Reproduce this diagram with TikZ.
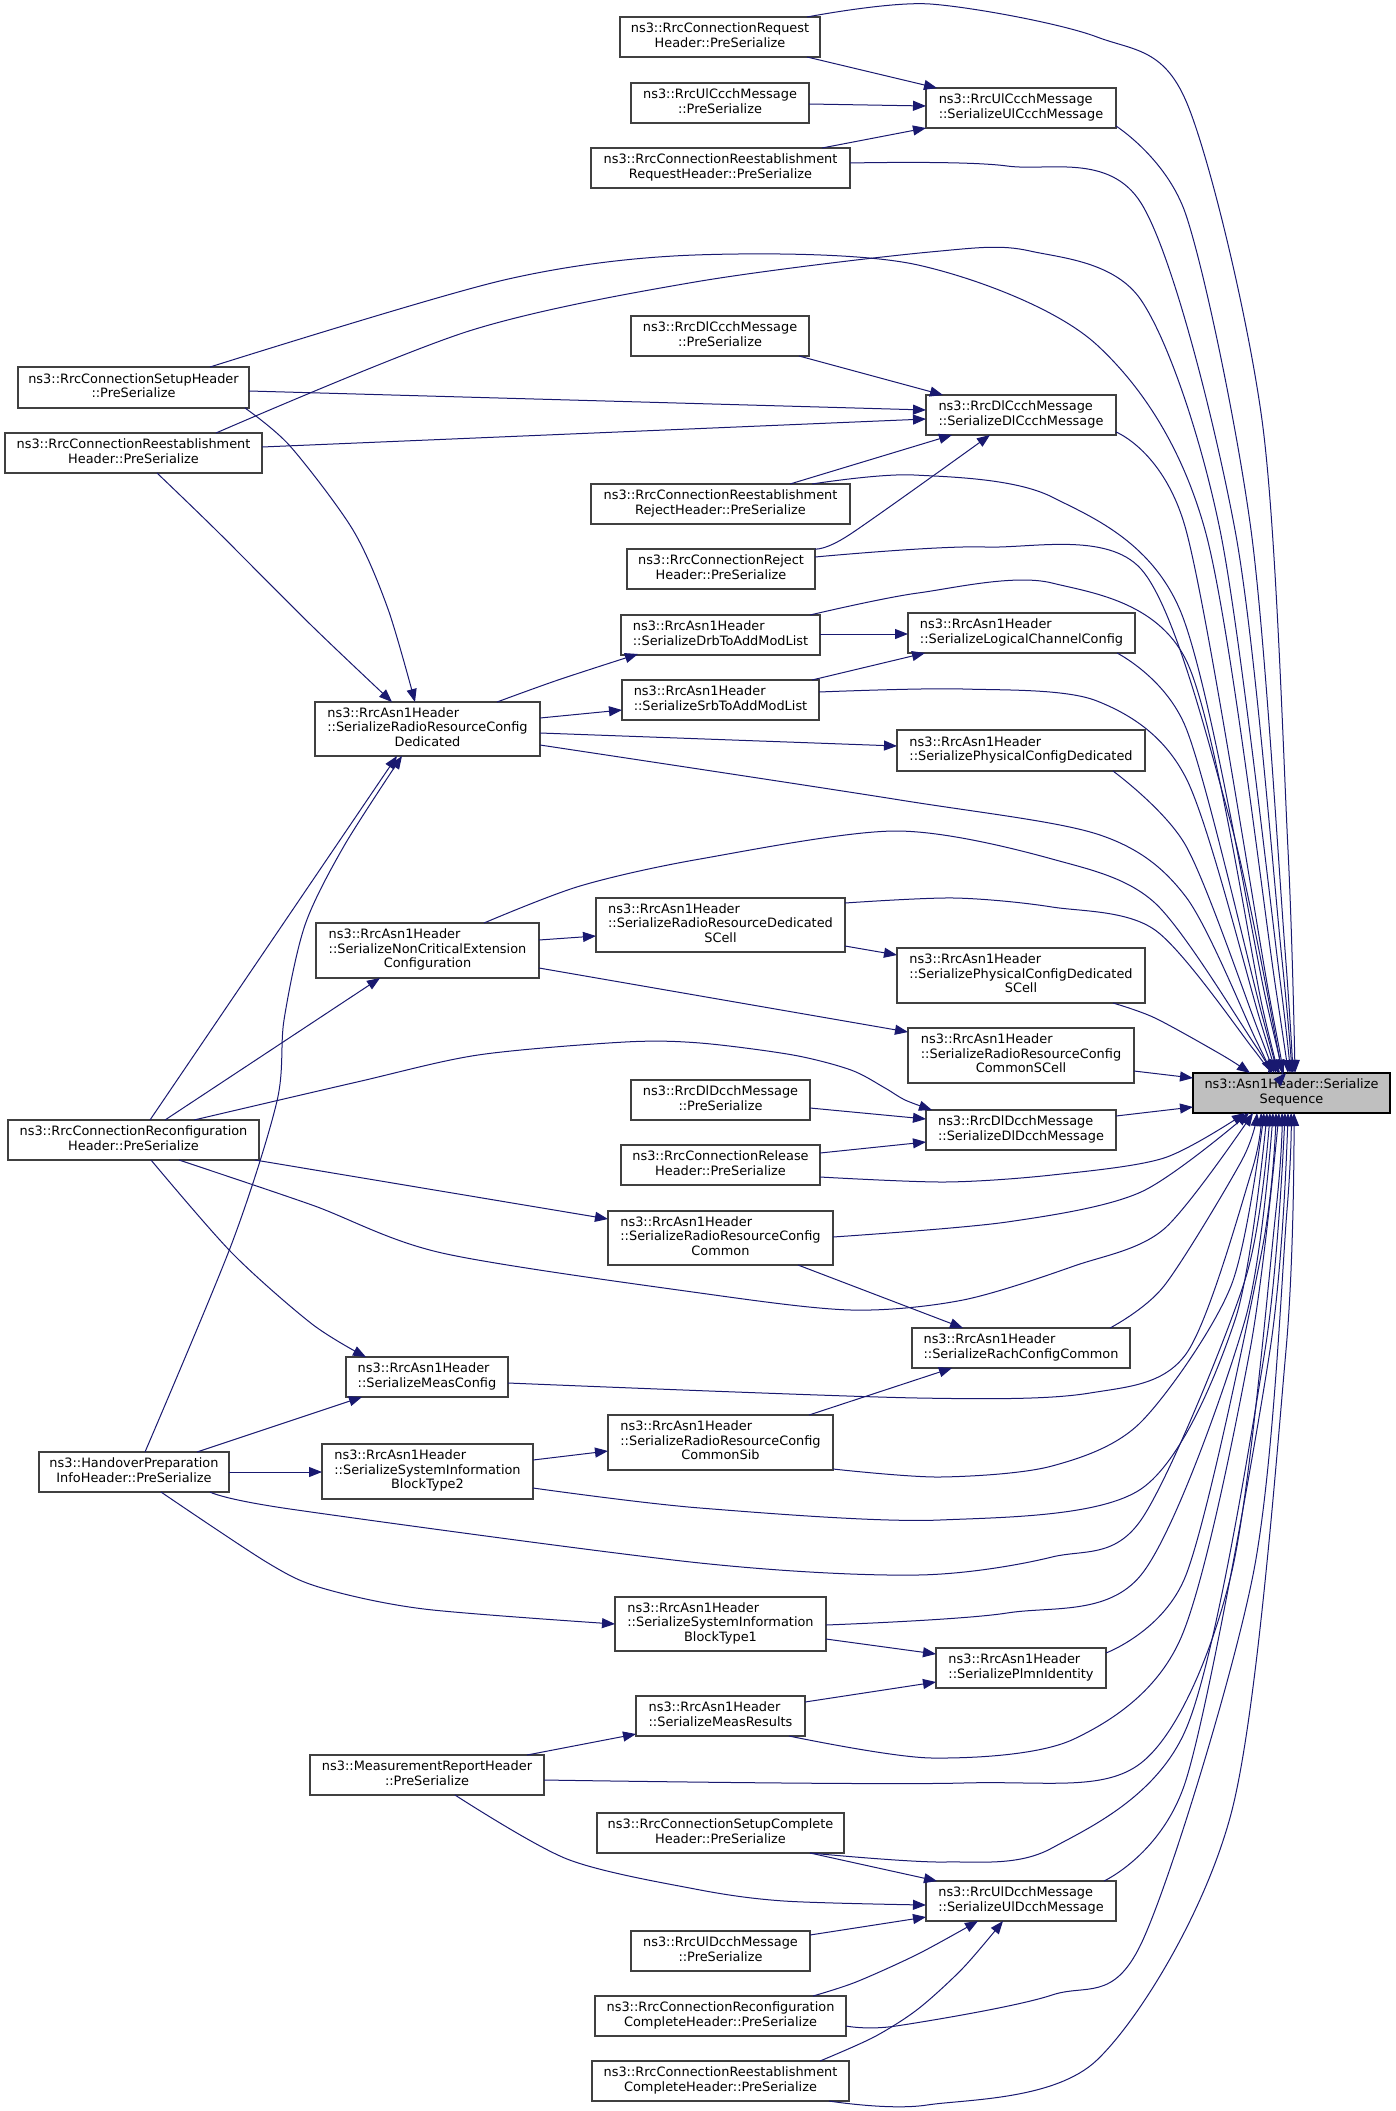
\documentclass[tikz,border=0pt]{standalone}
\usepackage{fontspec}
\newfontfamily\dv{DejaVu Sans}
\usetikzlibrary{arrows.meta,calc}
\definecolor{mblue}{HTML}{191970}
\definecolor{bord}{HTML}{404040}
\definecolor{tgt}{HTML}{BFBFBF}
\newcommand\lb[2]{\begin{tabular}{@{}l@{}}#1\\\multicolumn{1}{@{}c@{}}{#2}\end{tabular}}
\begin{document}
\begin{tikzpicture}[x=1pt,y=-1pt,
  box/.style={draw=bord,line width=1.2pt,fill=white,inner sep=0pt,outer sep=0pt,anchor=north west,
    font=\dv\fontsize{12.9}{14.5}\selectfont},
  bx/.style 2 args={box,minimum width=#1pt,minimum height=#2pt},
  e/.style={draw=mblue,line width=1pt,-{Triangle[length=13pt,width=10pt]}}]
\fill[white] (0,0) rectangle (1395,2111);
\useasboundingbox (0,0) rectangle (1395,2111);
% nodes
\node[bx={200}{40}] (reqH) at (620,17) {\lb{ns3::RrcConnectionRequest}{Header::PreSerialize}};
\node[bx={178}{40}] (ulccP) at (631,83) {\lb{ns3::RrcUlCcchMessage}{::PreSerialize}};
\node[bx={259}{40}] (reReqH) at (591,148) {\lb{ns3::RrcConnectionReestablishment}{RequestHeader::PreSerialize}};
\node[bx={231}{41}] (setupH) at (18,367) {\lb{ns3::RrcConnectionSetupHeader}{::PreSerialize}};
\node[bx={257}{40}] (reH) at (5,433) {\lb{ns3::RrcConnectionReestablishment}{Header::PreSerialize}};
\node[bx={178}{40}] (dlccP) at (631,316) {\lb{ns3::RrcDlCcchMessage}{::PreSerialize}};
\node[bx={259}{40}] (reRejH) at (591,484) {\lb{ns3::RrcConnectionReestablishment}{RejectHeader::PreSerialize}};
\node[bx={188}{40}] (rejH) at (627,549) {\lb{ns3::RrcConnectionReject}{Header::PreSerialize}};
\node[bx={190}{40}] (ulccS) at (926,88) {\lb{ns3::RrcUlCcchMessage}{::SerializeUlCcchMessage}};
\node[bx={190}{40}] (dlccS) at (926,395) {\lb{ns3::RrcDlCcchMessage}{::SerializeDlCcchMessage}};
\node[bx={199}{40}] (drb) at (621,615) {\lb{ns3::RrcAsn1Header}{::SerializeDrbToAddModList}};
\node[bx={197}{40}] (srb) at (622,680) {\lb{ns3::RrcAsn1Header}{::SerializeSrbToAddModList}};
\node[bx={227}{40}] (lcc) at (908,613) {\lb{ns3::RrcAsn1Header}{::SerializeLogicalChannelConfig}};
\node[bx={248}{41}] (pcd) at (897,730) {\lb{ns3::RrcAsn1Header}{::SerializePhysicalConfigDedicated}};
\node[bx={225}{54}] (rrcd) at (315,702) {\lb{ns3::RrcAsn1Header\\::SerializeRadioResourceConfig}{Dedicated}};
\node[bx={249}{54}] (rrdsc) at (596,898) {\lb{ns3::RrcAsn1Header\\::SerializeRadioResourceDedicated}{SCell}};
\node[bx={248}{55}] (pcdsc) at (897,948) {\lb{ns3::RrcAsn1Header\\::SerializePhysicalConfigDedicated}{SCell}};
\node[bx={226}{55}] (rrccsc) at (908,1028) {\lb{ns3::RrcAsn1Header\\::SerializeRadioResourceConfig}{CommonSCell}};
\node[bx={223}{55}] (nce) at (316,923) {\lb{ns3::RrcAsn1Header\\::SerializeNonCriticalExtension}{Configuration}};
\node[bx={197}{40},fill=tgt,draw=black] (asn) at (1193,1073) {\lb{ns3::Asn1Header::Serialize}{Sequence}};
\node[bx={190}{40}] (dldcS) at (926,1110) {\lb{ns3::RrcDlDcchMessage}{::SerializeDlDcchMessage}};
\node[bx={179}{40}] (dldcP) at (631,1080) {\lb{ns3::RrcDlDcchMessage}{::PreSerialize}};
\node[bx={199}{40}] (relH) at (621,1145) {\lb{ns3::RrcConnectionRelease}{Header::PreSerialize}};
\node[bx={225}{54}] (rrcc) at (608,1211) {\lb{ns3::RrcAsn1Header\\::SerializeRadioResourceConfig}{Common}};
\node[bx={218}{40}] (rach) at (912,1328) {\lb{ns3::RrcAsn1Header}{::SerializeRachConfigCommon}};
\node[bx={225}{55}] (rrccsib) at (608,1415) {\lb{ns3::RrcAsn1Header\\::SerializeRadioResourceConfig}{CommonSib}};
\node[bx={251}{40}] (reconfH) at (8,1120) {\lb{ns3::RrcConnectionReconfiguration}{Header::PreSerialize}};
\node[bx={162}{40}] (measCfg) at (346,1357) {\lb{ns3::RrcAsn1Header}{::SerializeMeasConfig}};
\node[bx={190}{40}] (hoH) at (39,1452) {\lb{ns3::HandoverPreparation}{InfoHeader::PreSerialize}};
\node[bx={211}{55}] (sib2) at (322,1444) {\lb{ns3::RrcAsn1Header\\::SerializeSystemInformation}{BlockType2}};
\node[bx={211}{54}] (sib1) at (615,1597) {\lb{ns3::RrcAsn1Header\\::SerializeSystemInformation}{BlockType1}};
\node[bx={169}{40}] (measRes) at (636,1696) {\lb{ns3::RrcAsn1Header}{::SerializeMeasResults}};
\node[bx={234}{40}] (measRep) at (310,1755) {\lb{ns3::MeasurementReportHeader}{::PreSerialize}};
\node[bx={170}{40}] (plmn) at (936,1648) {\lb{ns3::RrcAsn1Header}{::SerializePlmnIdentity}};
\node[bx={247}{40}] (setupCH) at (597,1813) {\lb{ns3::RrcConnectionSetupComplete}{Header::PreSerialize}};
\node[bx={190}{40}] (uldcS) at (926,1881) {\lb{ns3::RrcUlDcchMessage}{::SerializeUlDcchMessage}};
\node[bx={179}{40}] (uldcP) at (631,1931) {\lb{ns3::RrcUlDcchMessage}{::PreSerialize}};
\node[bx={251}{40}] (reconfCH) at (595,1996) {\lb{ns3::RrcConnectionReconfiguration}{CompleteHeader::PreSerialize}};
\node[bx={257}{40}] (reCH) at (592,2061) {\lb{ns3::RrcConnectionReestablishment}{CompleteHeader::PreSerialize}};
% edges between intermediate nodes
\draw[e] ($(reqH.north west)+(187,40)$) -- ($(ulccS.north west)+(11,0)$);
\draw[e] ($(ulccP.north west)+(178,21)$) -- ($(ulccS.north west)+(0,18)$);
\draw[e] ($(reReqH.north west)+(231,0)$) -- ($(ulccS.north west)+(0,40)$);
\draw[e] ($(setupH.north west)+(231,24)$) -- ($(dlccS.north west)+(0,15)$);
\draw[e] ($(reH.north west)+(257,14)$) -- ($(dlccS.north west)+(0,24)$);
\draw[e] ($(dlccP.north west)+(168,40)$) -- ($(dlccS.north west)+(17,0)$);
\draw[e] ($(reRejH.north west)+(199,0)$) -- ($(dlccS.north west)+(26,40)$);
\draw[e] plot[smooth] coordinates {($(rejH.north west)+(188,0)$) (849,535) ($(dlccS.north west)+(64,40)$)};
\draw[e] plot[smooth] coordinates {($(setupH.north west)+(227,41)$) (290,446) (353,530) (388,609) ($(rrcd.north west)+(100,0)$)};
\draw[e] plot[smooth] coordinates {($(reH.north west)+(152,40)$) (216,530) (312,626) ($(rrcd.north west)+(77,0)$)};
\draw[e] ($(reconfH.north west)+(142,0)$) -- ($(rrcd.north west)+(82,54)$);
\draw[e] plot[smooth] coordinates {($(hoH.north west)+(106,0)$) (232,1243) (277,1101) (284,1020) (305,925) (344,846) ($(rrcd.north west)+(87,54)$)};
\draw[e] plot[smooth] coordinates {($(rrcd.north west)+(182,0)$) (558,680) ($(drb.north west)+(17,39)$)};
\draw[e] ($(rrcd.north west)+(225,16)$) -- ($(srb.north west)+(0,30)$);
\draw[e] ($(rrcd.north west)+(225,31)$) -- ($(pcd.north west)+(0,16)$);
\draw[e] ($(drb.north west)+(199,19)$) -- ($(lcc.north west)+(0,21)$);
\draw[e] ($(srb.north west)+(190,0)$) -- ($(lcc.north west)+(17,40)$);
\draw[e] ($(reconfH.north west)+(157,0)$) -- ($(nce.north west)+(64,55)$);
\draw[e] ($(nce.north west)+(223,17)$) -- ($(rrdsc.north west)+(0,38)$);
\draw[e] ($(nce.north west)+(223,45)$) -- ($(rrccsc.north west)+(0,4)$);
\draw[e] ($(rrdsc.north west)+(249,48)$) -- ($(pcdsc.north west)+(0,7)$);
\draw[e] ($(dldcP.north west)+(179,28)$) -- ($(dldcS.north west)+(0,9)$);
\draw[e] ($(relH.north west)+(199,8)$) -- ($(dldcS.north west)+(0,32)$);
\draw[e] plot[smooth] coordinates {($(reconfH.north west)+(186,0)$) (357,1082) (478,1055) (625,1042) (700,1043) (793,1055) (851,1070) (885,1088) (905,1100) ($(dldcS.north west)+(6,0)$)};
\draw[e] ($(reconfH.north west)+(247,40)$) -- ($(rrcc.north west)+(0,8)$);
\draw[e] plot[smooth] coordinates {($(reconfH.north west)+(143,40)$) (232,1253) (312,1324) ($(measCfg.north west)+(20,0)$)};
\draw[e] ($(rrcc.north west)+(190,54)$) -- ($(rach.north west)+(51,0)$);
\draw[e] ($(rrccsib.north west)+(201,0)$) -- ($(rach.north west)+(40,40)$);
\draw[e] ($(sib2.north west)+(211,16)$) -- ($(rrccsib.north west)+(0,36)$);
\draw[e] ($(hoH.north west)+(158,0)$) -- ($(measCfg.north west)+(16,40)$);
\draw[e] ($(hoH.north west)+(190,20)$) -- ($(sib2.north west)+(0,28)$);
\draw[e] plot[smooth] coordinates {($(hoH.north west)+(122,40)$) (268,1563) (322,1588) (424,1609) ($(sib1.north west)+(0,27)$)};
\draw[e] ($(sib1.north west)+(211,42)$) -- ($(plmn.north west)+(0,6)$);
\draw[e] ($(measRes.north west)+(169,6)$) -- ($(plmn.north west)+(0,34)$);
\draw[e] ($(measRep.north west)+(217,0)$) -- ($(measRes.north west)+(0,38)$);
\draw[e] plot[smooth] coordinates {($(measRep.north west)+(145,40)$) (567,1859) (695,1889) (784,1901) ($(uldcS.north west)+(0,24)$)};
\draw[e] ($(setupCH.north west)+(213,40)$) -- ($(uldcS.north west)+(11,0)$);
\draw[e] ($(uldcP.north west)+(179,4)$) -- ($(uldcS.north west)+(0,36)$);
\draw[e] plot[smooth] coordinates {($(reconfCH.north west)+(218,0)$) (856,1982) (918,1954) ($(uldcS.north west)+(52,40)$)};
\draw[e] plot[smooth] coordinates {($(reCH.north west)+(228,0)$) (874,2037) (918,2009) (963,1968) ($(uldcS.north west)+(77,40)$)};
% edges into asn from the left
\draw[e] plot[smooth] coordinates {($(pcdsc.north west)+(216,55)$) (1155,1018) (1222,1055) ($(asn.north west)+(57,0)$)};
\draw[e] ($(rrccsc.north west)+(226,43)$) -- ($(asn.north west)+(0,5)$);
\draw[e] ($(dldcS.north west)+(190,6)$) -- ($(asn.north west)+(0,34)$);
% edges into asn from above
\draw[e] plot[smooth] coordinates {($(reqH.north west)+(187,0)$) (930,4) (1097,37) (1186,101) (1262,420) (1288,850) ($(asn.north west)+(102,0)$)};
\draw[e] plot[smooth] coordinates {($(ulccS.north west)+(190,38)$) (1186,215) (1251,530) (1285,950) ($(asn.north west)+(100,0)$)};
\draw[e] plot[smooth] coordinates {($(reReqH.north west)+(259,15)$) (1007,166) (1141,203) (1235,530) (1282,960) ($(asn.north west)+(99,0)$)};
\draw[e] plot[smooth] coordinates {($(reH.north west)+(211,0)$) (469,331) (695,282) (930,252) (1030,251) (1141,300) (1220,530) (1280,980) ($(asn.north west)+(97,0)$)};
\draw[e] plot[smooth] coordinates {($(setupH.north west)+(192,0)$) (504,280) (695,255) (918,265) (1097,345) (1205,530) (1276,990) ($(asn.north west)+(95,0)$)};
\draw[e] plot[smooth] coordinates {($(dlccS.north west)+(190,37)$) (1186,530) (1270,1000) ($(asn.north west)+(93,0)$)};
\draw[e] plot[smooth] coordinates {($(reRejH.north west)+(221,0)$) (914,475) (1052,497) (1180,610) (1266,1000) ($(asn.north west)+(91,0)$)};
\draw[e] plot[smooth] coordinates {($(rejH.north west)+(188,8)$) (985,547) (1141,569) (1230,820) ($(asn.north west)+(89,0)$)};
\draw[e] plot[smooth] coordinates {($(drb.north west)+(189,0)$) (918,593) (1052,583) (1186,660) (1263,1010) ($(asn.north west)+(87,0)$)};
\draw[e] plot[smooth] coordinates {($(lcc.north west)+(209,40)$) (1186,728) (1262,1015) ($(asn.north west)+(85,0)$)};
\draw[e] plot[smooth] coordinates {($(srb.north west)+(197,12)$) (963,689) (1097,701) (1186,778) (1260,1020) ($(asn.north west)+(83,0)$)};
\draw[e] plot[smooth] coordinates {($(pcd.north west)+(216,41)$) (1186,846) (1258,1030) ($(asn.north west)+(81,0)$)};
\draw[e] plot[smooth] coordinates {($(rrcd.north west)+(225,43)$) (900,800) (1100,835) (1186,897) (1256,1040) ($(asn.north west)+(79,0)$)};
\draw[e] plot[smooth] coordinates {($(nce.north west)+(168,0)$) (580,886) (700,859) (896,831) (1052,859) (1155,903) (1255,1045) ($(asn.north west)+(77,0)$)};
\draw[e] plot[smooth] coordinates {($(rrdsc.north west)+(249,5)$) (954,898) (1052,907) (1155,930) (1254,1050) ($(asn.north west)+(75,0)$)};
% edges into asn from below
\draw[e] plot[smooth] coordinates {($(relH.north west)+(199,32)$) (945,1182) (1052,1175) (1164,1158) ($(asn.north west)+(52,40)$)};
\draw[e] plot[smooth] coordinates {($(rrcc.north west)+(225,26)$) (1007,1222) (1141,1192) ($(asn.north west)+(56,40)$)};
\draw[e] plot[smooth] coordinates {($(reconfH.north west)+(171,40)$) (312,1205) (442,1253) (700,1293) (851,1310) (963,1300) (1074,1266) (1164,1229) ($(asn.north west)+(60,40)$)};
\draw[e] plot[smooth] coordinates {($(rach.north west)+(198,0)$) (1164,1286) (1242,1160) ($(asn.north west)+(64,40)$)};
\draw[e] plot[smooth] coordinates {($(measCfg.north west)+(162,26)$) (918,1398) (1090,1393) (1186,1354) (1252,1170) ($(asn.north west)+(68,40)$)};
\draw[e] plot[smooth] coordinates {($(rrccsib.north west)+(225,54)$) (940,1477) (1052,1466) (1141,1422) (1231,1286) ($(asn.north west)+(71,40)$)};
\draw[e] plot[smooth] coordinates {($(sib2.north west)+(211,44)$) (700,1508) (940,1520) (1141,1489) (1235,1320) ($(asn.north west)+(74,40)$)};
\draw[e] plot[smooth] coordinates {($(hoH.north west)+(171,40)$) (290,1509) (700,1563) (918,1575) (1052,1557) (1141,1520) (1245,1280) ($(asn.north west)+(77,40)$)};
\draw[e] plot[smooth] coordinates {($(sib1.north west)+(211,28)$) (1007,1613) (1141,1575) (1245,1320) ($(asn.north west)+(80,40)$)};
\draw[e] plot[smooth] coordinates {($(plmn.north west)+(170,5)$) (1186,1575) (1262,1250) ($(asn.north west)+(83,40)$)};
\draw[e] plot[smooth] coordinates {($(measRes.north west)+(153,40)$) (932,1758) (1074,1739) (1180,1640) (1250,1350) ($(asn.north west)+(86,40)$)};
\draw[e] plot[smooth] coordinates {($(measRep.north west)+(234,25)$) (963,1783) (1141,1763) (1231,1575) (1276,1210) ($(asn.north west)+(89,40)$)};
\draw[e] plot[smooth] coordinates {($(setupCH.north west)+(213,40)$) (945,1862) (1052,1848) (1186,1729) (1265,1350) ($(asn.north west)+(92,40)$)};
\draw[e] plot[smooth] coordinates {($(uldcS.north west)+(178,0)$) (1186,1780) (1270,1350) ($(asn.north west)+(95,40)$)};
\draw[e] plot[smooth] coordinates {($(reconfCH.north west)+(251,30)$) (896,2026) (1052,1995) (1141,1944) (1253,1575) (1287,1210) ($(asn.north west)+(98,40)$)};
\draw[e] plot[smooth] coordinates {($(reCH.north west)+(237,40)$) (927,2105) (1097,2060) (1231,1814) (1286,1350) ($(asn.north west)+(101,40)$)};
\end{tikzpicture}
\end{document}
